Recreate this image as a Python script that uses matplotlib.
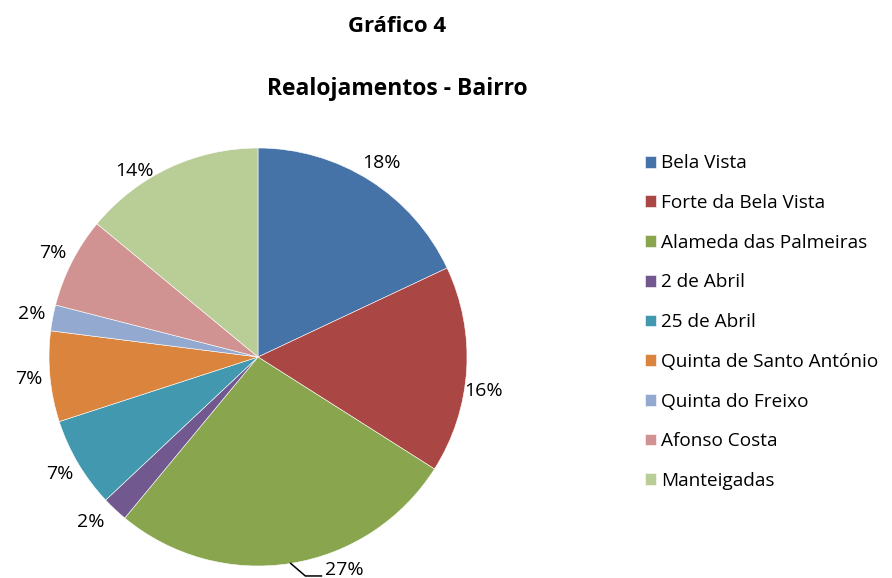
import numpy as np
import matplotlib.pyplot as plt

plt.rcParams['font.family'] = ['Open Sans', 'DejaVu Sans']

bairros = ['Bela Vista', 'Forte da Bela Vista', 'Alameda das Palmeiras', '2 de Abril',
           '25 de Abril', 'Quinta de Santo António', 'Quinta do Freixo', 'Afonso Costa',
           'Manteigadas']
percent = [18, 16, 27, 2, 7, 7, 2, 7, 14]
cores = ['#4572A7', '#AA4643', '#89A54E', '#71588F', '#4198AF',
         '#DB843D', '#93A9CF', '#D19392', '#B9CD96']

fig = plt.figure(figsize=(8.92, 5.78), dpi=100)
fig.text(0.445, 0.955, 'Gráfico 4', ha='center', va='center', fontsize=16, fontweight='bold')
fig.text(0.445, 0.846, 'Realojamentos - Bairro', ha='center', va='center', fontsize=16.5, fontweight='bold')

# eixo quadrado para o bolo
ax = fig.add_axes([49/892, 12/578, 418/892, 418/578])
wedges, txts = ax.pie(percent, colors=cores, startangle=90, counterclock=False,
                      wedgeprops=dict(edgecolor='white', linewidth=0.4))
ax.set_xlim(-1, 1)
ax.set_ylim(-1, 1)

# ajustes dos rótulos (ângulo, raio) como no Excel
ajuste = {1: (-8.5, 1.09), 3: (-135.5, 1.125), 8: (123.5, 1.07)}

for i, (w, p) in enumerate(zip(wedges, percent)):
    meio = (w.theta1 + w.theta2) / 2
    if i == 2:
        # rótulo com linha de chamada
        a = np.deg2rad(meio)
        x0, y0 = np.cos(a), np.sin(a)
        x1, y1 = x0 + 0.07, y0 - 0.06
        x2 = x1 + 0.077
        ax.plot([x0, x1, x2], [y0, y1, y1], color='black', lw=1.1, clip_on=False)
        ax.text(x2 + 0.018, y1 + 0.03, '%d%%' % p, ha='left', va='center', fontsize=14)
        continue
    ang, r = ajuste.get(i, (meio, 1.1))
    ang = np.deg2rad(ang)
    ax.text(r * np.cos(ang), r * np.sin(ang), '%d%%' % p, ha='center', va='center', fontsize=14)

fig.legend(wedges, bairros, loc='upper left', bbox_to_anchor=(0.715, 0.746),
           frameon=False, fontsize=13.7, handlelength=0.58, handleheight=0.58,
           handletextpad=0.26, labelspacing=1.14, borderaxespad=0)

fig.savefig('out.png', dpi=100)
